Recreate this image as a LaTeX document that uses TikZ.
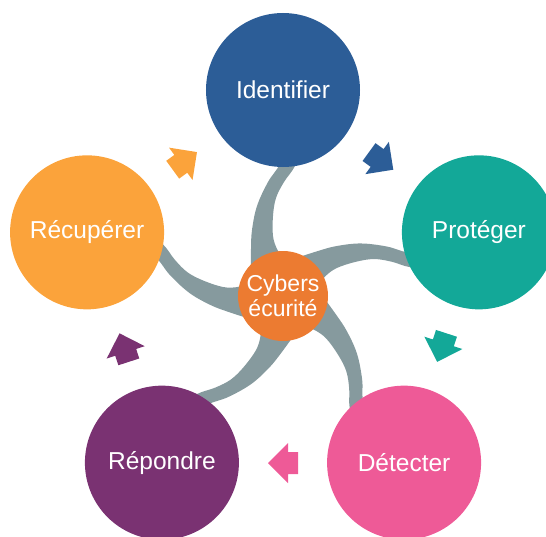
\documentclass[tikz,border=0pt]{standalone}
\usepackage{fontspec}
\setmainfont{Liberation Sans}
\usepackage{tikz}

\definecolor{idblue}{HTML}{2C5D97}
\definecolor{proteal}{HTML}{13A898}
\definecolor{detpink}{HTML}{EE5A97}
\definecolor{reppurple}{HTML}{7A3272}
\definecolor{recorange}{HTML}{FBA33B}
\definecolor{huborange}{HTML}{EC7B31}
\definecolor{armgrey}{HTML}{869A9E}

% one curved arm, pointing up from the hub
\newcommand{\arm}{%
  \fill[armgrey] plot[smooth, tension=0.6] coordinates
    {(-32,25) (-32,47) (-31,66) (-26,90) (-15,114) (-3,132) (3,152)}
  -- plot[smooth, tension=0.6] coordinates
    {(20,152) (12,130) (1,114) (-7,98) (-10,80) (-10,60) (-6,47) (0,38)}
  -- cycle;}

% block arrow, pointing along +x
\newcommand{\blockarrow}[1]{%
  \fill[#1] (-15,-11) -- (-5,-11) -- (-5,-20) -- (15,0) -- (-5,20)
    -- (-5,11) -- (-15,11) -- cycle;}

\begin{document}
\begin{tikzpicture}[x=1pt,y=1pt,
  stage/.style={circle, minimum size=154pt, inner sep=0pt, text=white,
    font=\fontsize{24.5}{28}\selectfont},
  hub/.style={circle, minimum size=90pt, inner sep=0pt, text=white,
    fill=huborange, align=center, font=\fontsize{23}{25}\selectfont}]

  \useasboundingbox (-283,-240) rectangle (263,296);

  % arms from the hub to each stage
  \begin{scope}\arm\end{scope}
  \begin{scope}[rotate=-72]\arm\end{scope}
  \begin{scope}[rotate=-144]\arm\end{scope}
  \begin{scope}[rotate=-216]\arm\end{scope}
  \begin{scope}[rotate=-288]\arm\end{scope}

  \node[hub] (center) at (0,0) {Cybers\\écurité};

  \node[stage, fill=idblue] (identifier) at (90:206) {Identifier};
  \node[stage, fill=proteal] (proteger) at (18:206) {Protéger};
  \node[stage, fill=detpink] (detecter) at (-54:206) {Détecter};
  \node[stage, fill=reppurple] (repondre) at (-126:206) {Répondre};
  \node[stage, fill=recorange] (recuperer) at (162:206) {Récupérer};

  % cycle arrows between the stages
  \begin{scope}[shift={(126:167)}, rotate=36]
  \blockarrow{recorange}
  \end{scope}

  \begin{scope}[shift={(54:167)}, rotate=-36]
  \blockarrow{idblue}
  \end{scope}

  \begin{scope}[shift={(-18:167)}, rotate=-108]
  \blockarrow{proteal}
  \end{scope}

  \begin{scope}[shift={(-90:167)}, rotate=180]
  \blockarrow{detpink}
  \end{scope}

  \begin{scope}[shift={(198:167)}, rotate=108]
  \blockarrow{reppurple}
  \end{scope}

\end{tikzpicture}
\end{document}
